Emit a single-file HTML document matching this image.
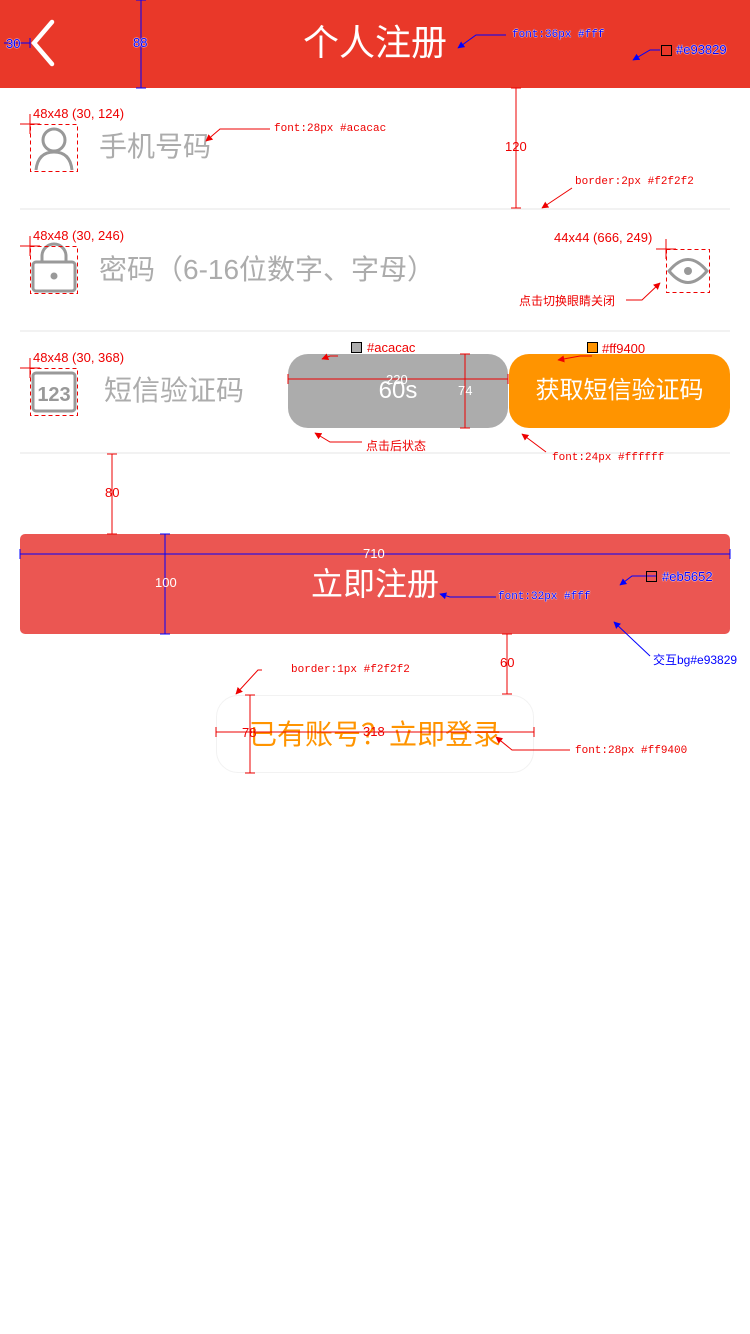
<!DOCTYPE html>
<html><head><meta charset="utf-8"><style>
*{margin:0;padding:0;box-sizing:border-box}
body{width:750px;height:1334px;background:#fff;position:relative;overflow:hidden;font-family:"Liberation Sans","Noto Sans CJK SC",sans-serif}
.a{position:absolute;white-space:nowrap}
.hdr{left:0;top:0;width:750px;height:88px;background:#e93829}
.t{color:#fff;font-size:36px;left:0;width:750px;text-align:center;top:20px;line-height:46px}
.div{left:20px;width:710px;height:2px;background:#f2f2f2}
.lab{font-size:28px;color:#acacac;line-height:36px}
.btn{border-radius:20px;color:#fff;font-size:24px;text-align:center;line-height:74px}
.r{color:#e00;font-size:13px;font-family:"Liberation Sans","Noto Sans CJK SC",sans-serif}
.m{font-family:"Liberation Mono","Noto Sans CJK SC",monospace;font-size:11px}
.b{color:#00f}
.w{text-shadow:0 0 1px #fff,0 0 1px #fff,0 0 1px #fff}
</style></head><body>
<div class="a hdr"></div>
<div class="a t">个人注册</div>
<div class="a div" style="top:208px"></div>
<div class="a div" style="top:330px"></div>
<div class="a div" style="top:452px"></div>
<div class="a lab" style="left:99px;top:129px">手机号码</div>
<div class="a lab" style="left:99px;top:252px">密码（6-16位数字、字母）</div>
<div class="a lab" style="left:104px;top:373px">短信验证码</div>
<div class="a btn" style="left:288px;top:354px;width:220px;height:74px;background:#acacac">60s</div>
<div class="a btn" style="left:509px;top:354px;width:221px;height:74px;background:#ff9400">获取短信验证码</div>
<div class="a" style="left:20px;top:534px;width:710px;height:100px;background:#eb5652;border-radius:5px;color:#fff;font-size:32px;text-align:center;line-height:100px">立即注册</div>
<div class="a" style="left:216px;top:695px;width:318px;height:78px;border:1px solid #f2f2f2;border-radius:22px;color:#ff9400;font-size:28px;text-align:center;line-height:78px">已有账号？立即登录</div>

<svg class="a" style="left:0;top:0" width="750" height="1334">
<defs>
<marker id="ar" viewBox="0 0 10 10" refX="9" refY="5" markerWidth="7" markerHeight="7" orient="auto"><path d="M0,0L10,5L0,10z" fill="#e00"/></marker>
<marker id="ab" viewBox="0 0 10 10" refX="9" refY="5" markerWidth="7" markerHeight="7" orient="auto"><path d="M0,0L10,5L0,10z" fill="#00f"/></marker>
</defs>
<polyline points="52,22 34,43 52,64" fill="none" stroke="#fff" stroke-width="4.5" stroke-linecap="round"/>
<circle cx="54" cy="140" r="11" fill="none" stroke="#999" stroke-width="3"/>
<path d="M36,170 Q38,152 54,152 Q70,152 72,170" fill="none" stroke="#999" stroke-width="3"/>
<path d="M42,262 V256 A12,12 0 0 1 66,256 V262" fill="none" stroke="#999" stroke-width="3"/>
<rect x="33" y="262" width="42" height="29" rx="3" fill="none" stroke="#999" stroke-width="3"/>
<circle cx="54" cy="276" r="3.5" fill="#999"/>
<rect x="33" y="373" width="42" height="38" rx="3" fill="none" stroke="#999" stroke-width="3"/>
<text x="54" y="401" font-size="20" font-weight="bold" fill="#999" text-anchor="middle" font-family="Liberation Sans">123</text>
<path d="M669,271 Q688,248 707,271 Q688,294 669,271Z" fill="none" stroke="#999" stroke-width="3"/>
<circle cx="688" cy="271" r="4" fill="#999"/>
<g fill="none" stroke="#e00" stroke-dasharray="4,3">
<rect x="30.5" y="124.5" width="47" height="47"/><rect x="30.5" y="246.5" width="47" height="47"/>
<rect x="30.5" y="368.5" width="47" height="47"/><rect x="666.5" y="249.5" width="43" height="43"/></g>
<g stroke="#e00" stroke-width="1" fill="none">
<path d="M20,124H40M30,114V134M20,246H40M30,236V256M20,368H40M30,358V378M656,249H676M666,239V259"/>
<path d="M516,88V208M511,88H521M511,208H521"/>
<path d="M112,454V534M107,454H117M107,534H117"/>
<path d="M507,634V694M502,634H512M502,694H512"/>
<path d="M288,379H508M288,374V384M508,374V384M465,354V428M460,354H470M460,428H470"/>
<path d="M216,732H534M216,727V737M534,727V737M250,695V773M245,695H255M245,773H255"/>
</g>
<g stroke="#e00" stroke-width="1" fill="none" marker-end="url(#ar)">
<path d="M270,129H220L206,141"/>
<path d="M572,188L542,208"/>
<path d="M626,300H642L660,283"/>
<path d="M362,442H330L315,433"/>
<path d="M546,452L522,434"/>
<path d="M262,670H258L236,694"/>
<path d="M570,750H512L496,737"/>
<path d="M338,356H330L322,359"/>
<path d="M592,356H580L558,360"/>
</g>
<g stroke="#00f" stroke-width="1" fill="none">
<path d="M141,0V88M136,0H146M136,88H146M4,43H30M30,38V48"/>
<path d="M20,554H730M20,549V559M730,549V559M165,534V634M160,534H170M160,634H170"/>
</g>
<g stroke="#00f" stroke-width="1" fill="none" marker-end="url(#ab)">
<path d="M506,35H476L458,48"/>
<path d="M660,50H650L633,60"/>
<path d="M656,576H632L620,585"/>
<path d="M496,597H450L440,594"/>
<path d="M650,656L614,622"/>
</g>
<rect x="661.5" y="45.5" width="10" height="10" fill="none" stroke="#000"/>
<rect x="646.5" y="571.5" width="10" height="10" fill="none" stroke="#000"/>
<rect x="351.5" y="342.5" width="10" height="10" fill="#acacac" stroke="#000"/>
<rect x="587.5" y="342.5" width="10" height="10" fill="#ff9400" stroke="#000"/>
</svg>

<div class="a b w" style="left:6px;top:36px;font-size:13px">30</div>
<div class="a b w" style="left:133px;top:35px;font-size:13px">88</div>
<div class="a b m w" style="left:512px;top:29px">font:36px #fff</div>
<div class="a b w" style="left:676px;top:42px;font-size:13px">#e93829</div>
<div class="a r" style="left:33px;top:106px">48x48 (30, 124)</div>
<div class="a r m" style="left:274px;top:123px">font:28px #acacac</div>
<div class="a r" style="left:505px;top:139px">120</div>
<div class="a r m" style="left:575px;top:176px">border:2px #f2f2f2</div>
<div class="a r" style="left:33px;top:228px">48x48 (30, 246)</div>
<div class="a r" style="left:554px;top:230px">44x44 (666, 249)</div>
<div class="a r" style="left:519px;top:292px;font-size:12px">点击切换眼睛关闭</div>
<div class="a r" style="left:33px;top:350px">48x48 (30, 368)</div>
<div class="a r" style="left:367px;top:340px">#acacac</div>
<div class="a r" style="left:602px;top:341px">#ff9400</div>
<div class="a" style="left:386px;top:372px;font-size:13px;color:#fff">220</div>
<div class="a" style="left:458px;top:383px;font-size:13px;color:#fff">74</div>
<div class="a r" style="left:366px;top:437px;font-size:12px">点击后状态</div>
<div class="a r m" style="left:552px;top:452px">font:24px #ffffff</div>
<div class="a r" style="left:105px;top:485px">80</div>
<div class="a" style="left:363px;top:546px;font-size:13px;color:#fff">710</div>
<div class="a" style="left:155px;top:575px;font-size:13px;color:#fff">100</div>
<div class="a b w" style="left:662px;top:569px;font-size:13px">#eb5652</div>
<div class="a b m w" style="left:498px;top:591px">font:32px #fff</div>
<div class="a b" style="left:653px;top:651px;font-size:12px">交互bg#e93829</div>
<div class="a r" style="left:500px;top:655px">60</div>
<div class="a r m" style="left:291px;top:664px">border:1px #f2f2f2</div>
<div class="a r" style="left:242px;top:725px">78</div>
<div class="a r" style="left:363px;top:724px">318</div>
<div class="a r m" style="left:575px;top:745px">font:28px #ff9400</div>
</body></html>
